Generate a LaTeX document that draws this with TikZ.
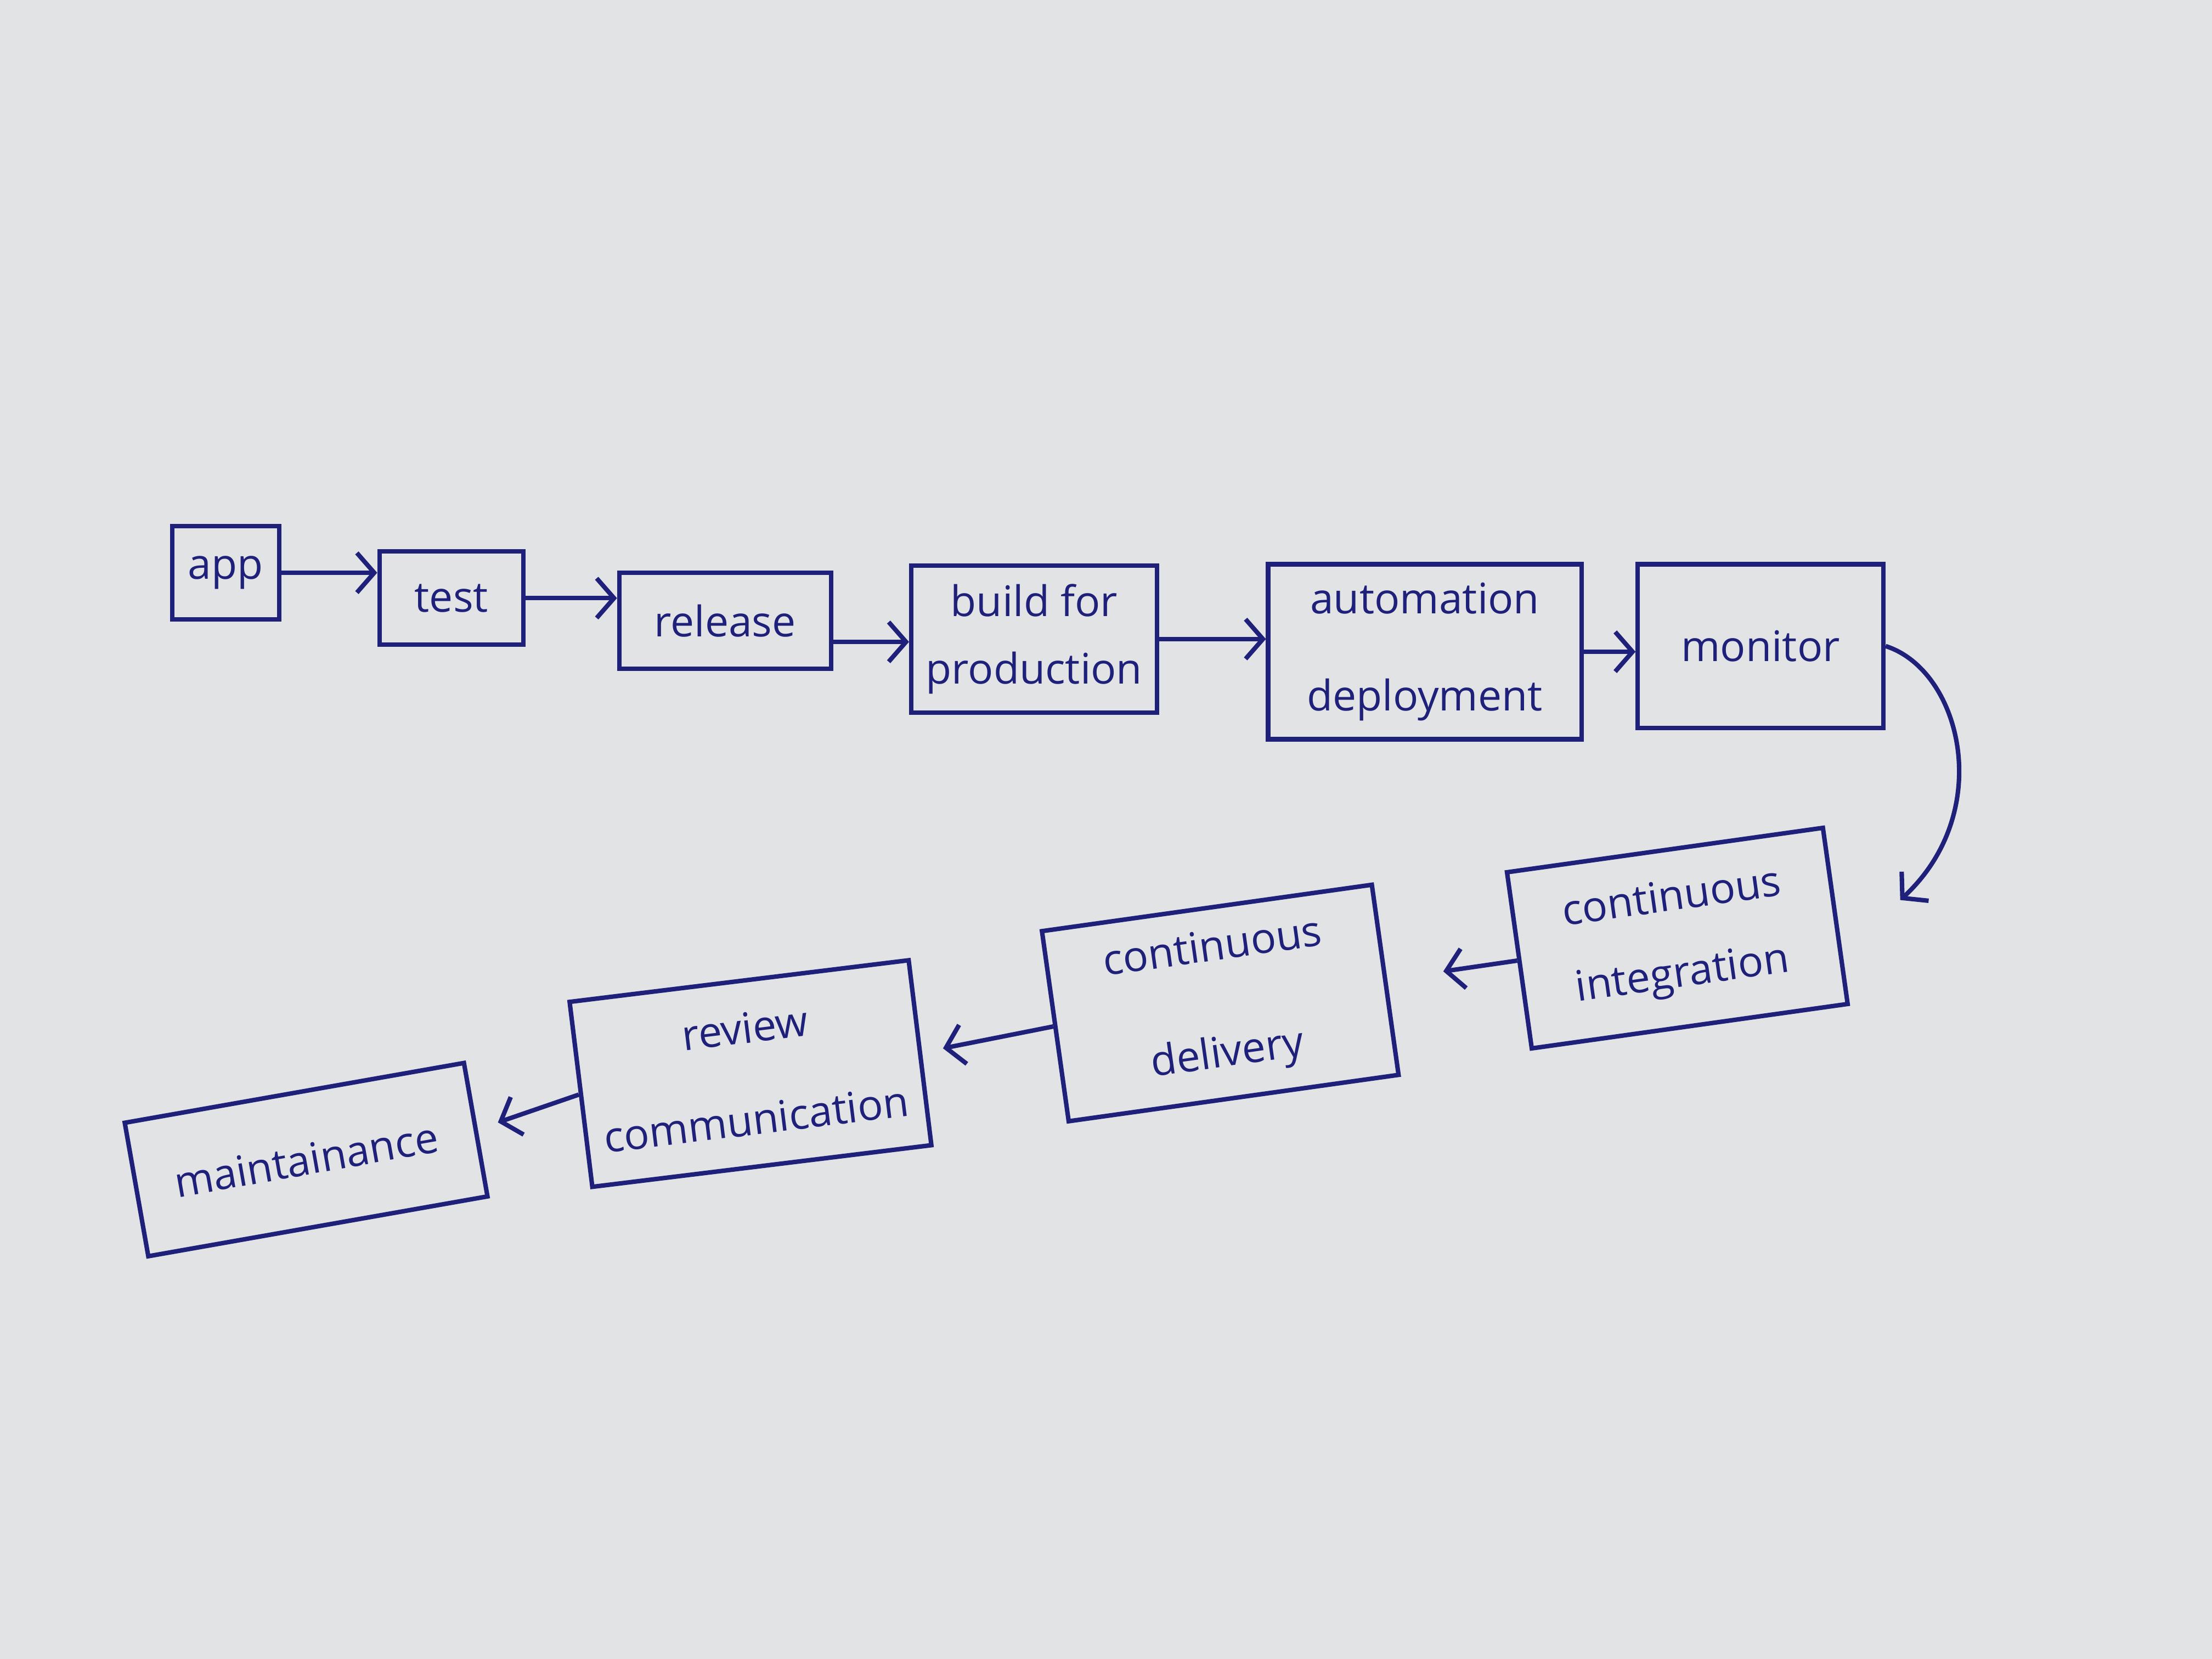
\documentclass[tikz,border=0pt]{standalone}
\usepackage{fontspec}
\setmainfont{Open Sans}
\usetikzlibrary{arrows.meta}
\definecolor{ink}{RGB}{30,32,122}
\definecolor{paper}{RGB}{226,227,229}
\begin{document}
\begin{tikzpicture}[x=0.01cm,y=-0.01cm,
  box/.style={draw=ink, line width=0.9pt, text=ink, align=center, inner sep=0pt,
              font=\fontsize{8.5}{10.5}\selectfont},
  link/.style={draw=ink, line width=0.9pt, -{Straight Barb[length=3.5pt,width=8pt]}}]
\fill[paper] (0,0) rectangle (1568,1176);
% top row
\node[box, minimum width=0.76cm, minimum height=0.66cm] (app) at (160,406) {app};
\node[box, minimum width=1.02cm, minimum height=0.66cm] (test) at (320,424) {test};
\node[box, minimum width=1.50cm, minimum height=0.68cm] (rel) at (514,440) {release};
\node[box, minimum width=1.74cm, minimum height=1.04cm] (build) at (733,453) {build for\\[3pt]production};
\node[box, minimum width=2.22cm, minimum height=1.24cm] (auto) at (1010,462) {automation\\[9pt]deployment};
\node[box, minimum width=1.74cm, minimum height=1.16cm] (mon) at (1248,458) {monitor};
% bottom row
\node[box, rotate=8, minimum width=2.26cm, minimum height=1.26cm] (ci) at (1189,665) {continuous\\[5pt]integration};
\node[box, rotate=8, minimum width=2.36cm, minimum height=1.36cm] (cd) at (865,711) {continuous\\[11pt]delivery};
\node[box, rotate=7, minimum width=2.42cm, minimum height=1.32cm] (rev) at (532,761) {review\\[8pt]communication};
\node[box, rotate=10, minimum width=2.44cm, minimum height=0.96cm] (maint) at (217,822) {maintainance};
\coordinate (cin) at (1347,638);
% connectors
\draw[link] (app.east) -- (app.east -| test.west);
\draw[link] (test.east) -- (test.east -| rel.west);
\draw[link] ([yshift=-0.15cm]rel.east) -- ([yshift=-0.15cm]rel.east -| build.west);
\draw[link] (build.east) -- (build.east -| auto.west);
\draw[link] (auto.east) -- (auto.east -| mon.west);
\draw[link] (mon.east) .. controls (1390,475) and (1415,575) .. (cin);
\draw[link, shorten >=0.4cm] (ci.west) -- (cd.east);
\draw[link, shorten >=0.15cm] (cd.west) -- (rev.east);
\draw[link, shorten >=0.15cm] (rev.west) -- (maint.east);
\end{tikzpicture}
\end{document}
